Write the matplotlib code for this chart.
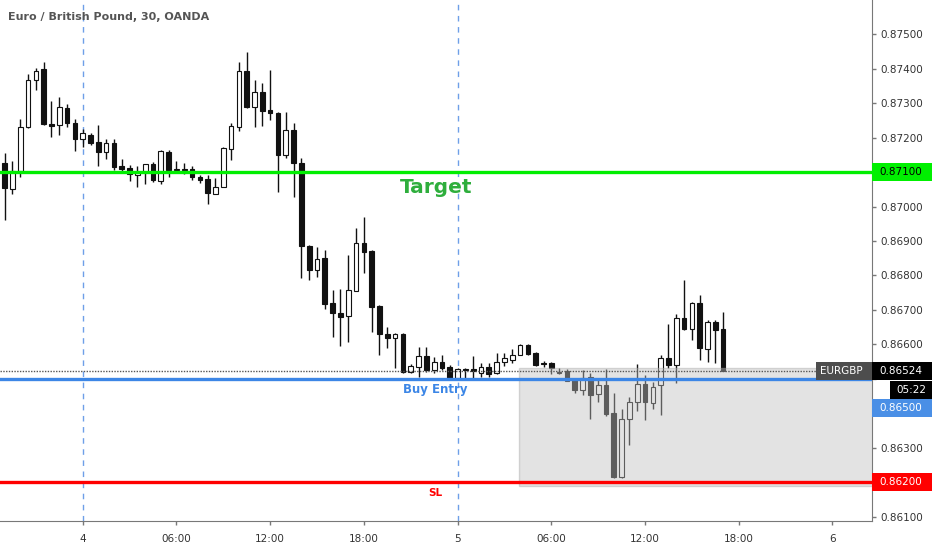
import numpy as np
import matplotlib
matplotlib.use("Agg")
import matplotlib.pyplot as plt
from matplotlib.patches import Rectangle
from matplotlib.transforms import blended_transform_factory

# EURGBP 30 min candles, index 10 = day 4 00:00
opens = [0.87127, 0.87050, 0.87104, 0.87231, 0.87367, 0.87398, 0.87239, 0.87236, 0.87285, 0.87243,
         0.87196, 0.87208, 0.87188, 0.87159, 0.87185, 0.87117, 0.87112, 0.87092, 0.87101, 0.87123,
         0.87074, 0.87159, 0.87106, 0.87109, 0.87108, 0.87085, 0.87079, 0.87036, 0.87057, 0.87166,
         0.87231, 0.87394, 0.87288, 0.87333, 0.87280, 0.87270, 0.87149, 0.87222, 0.87127, 0.86886,
         0.86816, 0.86850, 0.86719, 0.86690, 0.86683, 0.86756, 0.86893, 0.86872, 0.86712, 0.86630,
         0.86618, 0.86630, 0.86521, 0.86536, 0.86567, 0.86526, 0.86550, 0.86536, 0.86504, 0.86528,
         0.86529, 0.86518, 0.86534, 0.86517, 0.86548, 0.86555, 0.86570, 0.86597, 0.86574, 0.86545,
         0.86545, 0.86521, 0.86524, 0.86499, 0.86467, 0.86507, 0.86455, 0.86483, 0.86401, 0.86215,
         0.86383, 0.86432, 0.86485, 0.86430, 0.86483, 0.86560, 0.86541, 0.86676, 0.86644, 0.86719,
         0.86587, 0.86664, 0.86644]
highs = [0.87155, 0.87133, 0.87253, 0.87384, 0.87403, 0.87418, 0.87307, 0.87318, 0.87297, 0.87254,
         0.87224, 0.87213, 0.87236, 0.87195, 0.87197, 0.87137, 0.87120, 0.87117, 0.87123, 0.87129,
         0.87164, 0.87164, 0.87133, 0.87127, 0.87117, 0.87091, 0.87091, 0.87082, 0.87173, 0.87241,
         0.87418, 0.87447, 0.87367, 0.87357, 0.87396, 0.87275, 0.87275, 0.87241, 0.87140, 0.86888,
         0.86883, 0.86874, 0.86758, 0.86760, 0.86859, 0.86937, 0.86969, 0.86874, 0.86714, 0.86650,
         0.86633, 0.86633, 0.86543, 0.86594, 0.86594, 0.86563, 0.86568, 0.86541, 0.86533, 0.86533,
         0.86567, 0.86545, 0.86545, 0.86574, 0.86574, 0.86586, 0.86601, 0.86601, 0.86579, 0.86553,
         0.86550, 0.86531, 0.86530, 0.86504, 0.86526, 0.86517, 0.86497, 0.86528, 0.86459, 0.86412,
         0.86449, 0.86543, 0.86512, 0.86492, 0.86570, 0.86659, 0.86688, 0.86787, 0.86724, 0.86743,
         0.86671, 0.86671, 0.86695]
lows = [0.86961, 0.87036, 0.87085, 0.87228, 0.87338, 0.87236, 0.87201, 0.87207, 0.87230, 0.87162,
        0.87173, 0.87178, 0.87117, 0.87137, 0.87106, 0.87098, 0.87075, 0.87056, 0.87065, 0.87071,
        0.87065, 0.87086, 0.87103, 0.87094, 0.87077, 0.87067, 0.87007, 0.87035, 0.87057, 0.87135,
        0.87220, 0.87286, 0.87231, 0.87233, 0.87251, 0.87043, 0.87141, 0.87028, 0.86792, 0.86787,
        0.86795, 0.86702, 0.86621, 0.86596, 0.86608, 0.86755, 0.86806, 0.86637, 0.86570, 0.86589,
        0.86531, 0.86517, 0.86517, 0.86507, 0.86520, 0.86517, 0.86526, 0.86501, 0.86503, 0.86504,
        0.86502, 0.86507, 0.86507, 0.86514, 0.86538, 0.86547, 0.86568, 0.86570, 0.86538, 0.86534,
        0.86514, 0.86513, 0.86493, 0.86459, 0.86454, 0.86383, 0.86432, 0.86393, 0.86213, 0.86213,
        0.86309, 0.86408, 0.86381, 0.86412, 0.86396, 0.86531, 0.86488, 0.86642, 0.86613, 0.86555,
        0.86550, 0.86547, 0.86524]
closes = [0.87053, 0.87104, 0.87231, 0.87367, 0.87394, 0.87238, 0.87235, 0.87288, 0.87241, 0.87196,
          0.87212, 0.87185, 0.87159, 0.87183, 0.87115, 0.87110, 0.87094, 0.87101, 0.87123, 0.87077,
          0.87162, 0.87106, 0.87107, 0.87106, 0.87085, 0.87077, 0.87040, 0.87057, 0.87169, 0.87233,
          0.87394, 0.87288, 0.87331, 0.87278, 0.87272, 0.87149, 0.87222, 0.87125, 0.86886, 0.86816,
          0.86849, 0.86717, 0.86692, 0.86681, 0.86758, 0.86893, 0.86869, 0.86708, 0.86630, 0.86618,
          0.86630, 0.86521, 0.86538, 0.86567, 0.86526, 0.86550, 0.86533, 0.86503, 0.86528, 0.86525,
          0.86524, 0.86534, 0.86514, 0.86550, 0.86560, 0.86570, 0.86597, 0.86572, 0.86541, 0.86543,
          0.86533, 0.86518, 0.86494, 0.86468, 0.86502, 0.86454, 0.86483, 0.86398, 0.86215, 0.86384,
          0.86432, 0.86485, 0.86432, 0.86478, 0.86560, 0.86541, 0.86676, 0.86644, 0.86719, 0.86589,
          0.86664, 0.86642, 0.86524]

# niveaux
target = 0.87100
entry = 0.86500
stop = 0.86200
last_price = 0.86524
zone_top = 0.86531
zone_bottom = 0.86190
zone_start = 65.9
label_x = 55.2

day_breaks = [10, 58]
xtick_pos = [10, 22, 34, 46, 58, 70, 82, 94, 106]
xtick_labels = ["4", "06:00", "12:00", "18:00", "5", "06:00", "12:00", "18:00", "6"]
ytick_vals = [0.875, 0.874, 0.873, 0.872, 0.871, 0.870, 0.869, 0.868, 0.867, 0.866,
              0.865, 0.864, 0.863, 0.862, 0.861]
hidden_ticks = [0.871, 0.865, 0.864, 0.862]

fig = plt.figure(figsize=(9.32, 5.5), dpi=100)
ax = fig.add_axes([0, 29 / 550, 872 / 932, 521 / 550])

idx = np.arange(len(opens))
o = np.array(opens)
c = np.array(closes)
up = c >= o

# meches puis corps
ax.vlines(idx, lows, highs, color="#111111", linewidth=1, zorder=2)
bottom = np.minimum(o, c)
height = np.maximum(np.abs(c - o), 0.000025)
ax.bar(idx[up], height[up], bottom=bottom[up], width=0.6, color="white",
       edgecolor="#111111", linewidth=0.8, zorder=3)
ax.bar(idx[~up], height[~up], bottom=bottom[~up], width=0.6, color="#111111",
       edgecolor="#111111", linewidth=0.8, zorder=3)

# zone grise
ax.add_patch(Rectangle((zone_start, zone_bottom), 60, zone_top - zone_bottom,
                       facecolor="#c0c0c0", alpha=0.44, edgecolor="#a8a8a8",
                       linewidth=1, zorder=4))

for d in day_breaks:
    ax.axvline(d, color="#6e9fe8", linestyle=(0, (4, 4)), linewidth=1, zorder=1)

ax.axhline(target, color="#00ee00", linewidth=2.4, zorder=5)
ax.axhline(entry, color="#3c86e6", linewidth=2.4, zorder=5)
ax.axhline(stop, color="#ff0000", linewidth=2.4, zorder=5)
ax.axhline(last_price, color="#555555", linestyle=(0, (1, 1)), linewidth=1, zorder=5)

ax.text(label_x, 0.87054, "Target", color="#2eae3c", fontsize=14.5, fontweight="bold",
        ha="center", va="center", zorder=6)
ax.text(label_x, 0.86470, "Buy Entry", color="#3c86e6", fontsize=8.5, fontweight="bold",
        ha="center", va="center", zorder=6)
ax.text(label_x, 0.86170, "SL", color="#ff0000", fontsize=7.5, fontweight="bold",
        ha="center", va="center", zorder=6)

ax.set_xlim(-0.59, 111.06)
ax.set_ylim(0.86088, 0.87599)

ax.set_xticks(xtick_pos)
ax.set_xticklabels(xtick_labels)
ax.yaxis.tick_right()
ax.set_yticks(ytick_vals)
ax.set_yticklabels(["" if any(abs(v - h) < 1e-9 for h in hidden_ticks) else f"{v:.5f}"
                    for v in ytick_vals])
ax.tick_params(axis="x", colors="#787878", labelcolor="#333333", labelsize=7.5,
               length=3, width=1, pad=6)
ax.tick_params(axis="y", colors="#787878", labelcolor="#333333", labelsize=7.5,
               length=3, width=1, pad=3)
for s in ["top", "left"]:
    ax.spines[s].set_visible(False)
for s in ["bottom", "right"]:
    ax.spines[s].set_color("#787878")

# etiquettes de prix a droite
tr = blended_transform_factory(ax.transAxes, ax.transData)
right_w = 932 / 872 - 1.0
px = 1 / 34500.0


def price_box(y, text, bg, fg, x0=1.0, w=right_w, h=18 * px, tx=None):
    ax.add_patch(Rectangle((x0, y - h / 2), w, h, transform=tr, facecolor=bg,
                           edgecolor="none", clip_on=False, zorder=10))
    ax.text(x0 + 0.008 if tx is None else tx, y, text, transform=tr, color=fg,
            fontsize=7.5, ha="left", va="center", clip_on=False, zorder=11)


price_box(target, "0.87100", "#00f000", "black")
price_box(last_price, "0.86524", "black", "white")
price_box(last_price, "EURGBP", "#4d4d4d", "white", x0=816 / 872, w=56 / 872,
          tx=820 / 872)
price_box(last_price - 19 * px, "05:22", "black", "white", x0=890 / 872,
          w=42 / 872, tx=896 / 872)
price_box(last_price - 37 * px, "0.86500", "#4a8fe6", "white")
price_box(stop, "0.86200", "#ff0000", "white")

fig.text(8 / 932, 1 - 17 / 550, "Euro / British Pound, 30, OANDA", color="#555555",
         fontsize=8, fontweight="bold", ha="left", va="center")

fig.savefig("out.png", dpi=100)
